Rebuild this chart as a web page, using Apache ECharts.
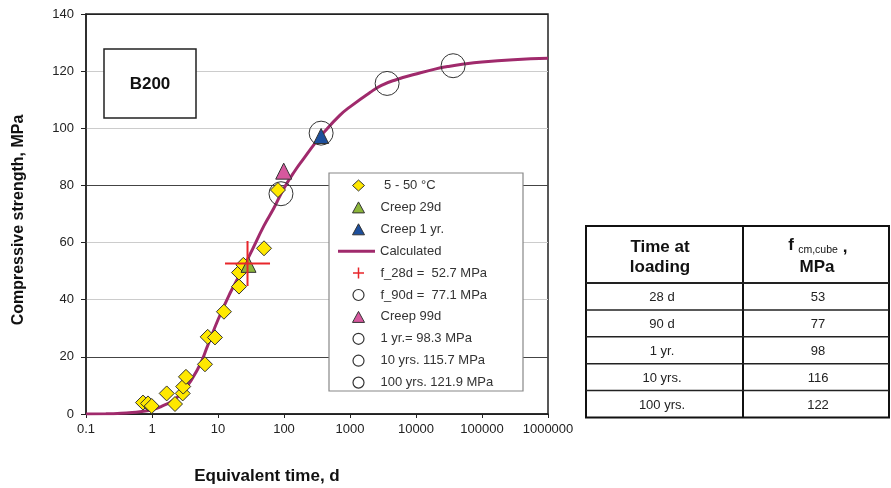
<!DOCTYPE html>
<html lang="en" style="height: 100%">
<head>
  <meta charset="utf-8">
</head>
<body style="height: 100%; margin: 0; background: #fff">
  <div id="container" style="width: 891px; height: 488px"></div>
  <script type="text/javascript" src="https://cdn.jsdelivr.net/npm/echarts@6/dist/echarts.min.js"></script>
  <script type="text/javascript">
    // measured points, [equivalent time d, MPa]
    var tests5to50 = [[0.73, 4], [0.87, 3.7], [0.99, 2.8], [1.67, 7.2], [2.23, 3.5], [2.92, 7.2],
      [2.97, 9.6], [3.27, 13], [6.35, 17.4], [6.98, 27], [9.0, 26.8], [12.3, 35.8],
      [20.8, 44.6], [20.8, 49.5], [24.2, 52.2], [49.8, 58], [81, 78.4]];
    var creep29d = [[29, 52.2]];
    var creep1yr = [[365, 97.3]];
    var creep99d = [[99, 85]];
    var calcTime = [0.1, 0.2, 0.3, 0.5, 0.7, 1, 1.5, 2, 3, 5, 7, 10, 15, 20, 30, 50, 70, 100, 150, 200,
      300, 400, 700, 1000, 2000, 3000, 5000, 10000, 20000, 30000, 50000, 100000, 300000, 1000000];
    var calcStrength = [0, 0.1, 0.2, 0.5, 0.9, 1.5, 3, 4.5, 8, 16, 24, 33, 42, 47.5, 55.5, 66, 72, 79, 85.5, 89.5,
      95, 98.5, 104.5, 107.5, 112.5, 115, 117, 119, 120.8, 121.6, 122.4, 123.2, 124, 124.5];
    var f28d = [[28, 52.7]];
    var f90d = [[90, 77.1]];
    var f1yr = [[365, 98.3]];
    var f10yr = [[3650, 115.7]];
    var f100yr = [[36500, 121.9]];

    // table on the right
    var tableTimes = ['28 d', '90 d', '1 yr.', '10 yrs.', '100 yrs.'];
    var tableStrengths = [53, 77, 98, 116, 122];

    var names = [' 5 - 50 °C', 'Creep 29d', 'Creep 1 yr.', 'Calculated', 'f_28d =  52.7 MPa',
      'f_90d =  77.1 MPa', 'Creep 99d', '1 yr.= 98.3 MPa', '10 yrs. 115.7 MPa', '100 yrs. 121.9 MPa'];

    var crossPath = 'path://M22,0 L22,44 M0,22 L44,22';
    var ring = { color: 'rgba(0,0,0,0)', borderColor: '#333', borderWidth: 1, opacity: 1 };
    var font17 = 'bold 17px "Liberation Sans", Arial';

    var myChart = echarts.init(document.getElementById('container'), null, { renderer: 'canvas' });

    function ringSeries(name, data) {
      return { name: name, type: 'scatter', data: data, symbol: 'circle', symbolSize: 24, itemStyle: ring, z: 6 };
    }
    function legendRing(name) {
      return { name: name, icon: 'circle', itemStyle: { color: 'rgba(0,0,0,0)', borderColor: '#333', borderWidth: 1.2 } };
    }
    function legendBox(top, items, wide) {
      return {
        orient: 'vertical', left: wide ? 338 : 352, top: top,
        itemWidth: wide ? 37 : 12, itemHeight: wide ? 3 : 11, itemGap: 8.9, padding: 0, z: 10,
        textStyle: { color: '#333', fontSize: 13, padding: [0, 0, 0, wide ? 0 : 11] },
        data: items
      };
    }

    // table drawn as graphic elements
    var tableX = 586, tableY = 226, tableW = 303, colX = 743, headH = 57, rowH = 26.9;
    var tableGraphic = [
      { type: 'rect', shape: { x: tableX, y: tableY, width: tableW, height: headH + rowH * 5 },
        style: { fill: '#fff', stroke: '#111', lineWidth: 2 } },
      { type: 'line', shape: { x1: colX, y1: tableY, x2: colX, y2: tableY + headH + rowH * 5 },
        style: { stroke: '#111', lineWidth: 2 } },
      { type: 'text', x: 660, y: 247, style: { text: 'Time at', font: font17, fill: '#111', align: 'center', verticalAlign: 'middle' } },
      { type: 'text', x: 660, y: 267, style: { text: 'loading', font: font17, fill: '#111', align: 'center', verticalAlign: 'middle' } },
      { type: 'text', x: 791, y: 245, style: { text: 'f', font: font17, fill: '#111', align: 'center', verticalAlign: 'middle' } },
      { type: 'text', x: 818, y: 250, style: { text: 'cm,cube', font: '10.5px "Liberation Sans", Arial', fill: '#111', align: 'center', verticalAlign: 'middle' } },
      { type: 'text', x: 845, y: 247, style: { text: ',', font: font17, fill: '#111', align: 'center', verticalAlign: 'middle' } },
      { type: 'text', x: 817, y: 267, style: { text: 'MPa', font: font17, fill: '#111', align: 'center', verticalAlign: 'middle' } }
    ];
    tableTimes.forEach(function (t, i) {
      var top = tableY + headH + rowH * i;
      tableGraphic.push({ type: 'line', shape: { x1: tableX, y1: top, x2: tableX + tableW, y2: top },
        style: { stroke: '#222', lineWidth: i === 0 ? 2 : 1.5 } });
      tableGraphic.push({ type: 'text', x: 662, y: top + rowH / 2 + 1, style: { text: t, font: '13px "Liberation Sans", Arial', fill: '#222', align: 'center', verticalAlign: 'middle' } });
      tableGraphic.push({ type: 'text', x: 818, y: top + rowH / 2 + 1, style: { text: String(tableStrengths[i]), font: '13px "Liberation Sans", Arial', fill: '#222', align: 'center', verticalAlign: 'middle' } });
    });

    var pitch = 21.9, legendTop = 179;
    var option = {
      animation: false,
      textStyle: { fontFamily: '"Liberation Sans", Arial, sans-serif' },
      grid: { left: 86, top: 14, right: 343, bottom: 74, show: true, borderColor: '#222', borderWidth: 1.5 },
      xAxis: {
        type: 'log', logBase: 10, min: 0.1, max: 1000000,
        axisLine: { lineStyle: { color: '#222', width: 1.5 } },
        axisTick: { show: true, length: 4, lineStyle: { color: '#222' } },
        minorTick: { show: false },
        splitLine: { show: false },
        axisLabel: { color: '#222', fontSize: 13, margin: 9, formatter: function (v) { return String(+v.toPrecision(6)); } }
      },
      yAxis: {
        type: 'value', min: 0, max: 140, interval: 20,
        axisLine: { show: true, lineStyle: { color: '#222', width: 1.5 } },
        axisTick: { show: true, length: 5, lineStyle: { color: '#222' } },
        splitLine: { show: true, lineStyle: { color: ['#222', '#444', '#ccc', '#ccc', '#444', '#ccc', '#ccc', '#222'], width: 1.2 } },
        axisLabel: { color: '#222', fontSize: 13, margin: 12 }
      },
      legend: [
        legendBox(legendTop, [
          { name: names[0], icon: 'diamond', itemStyle: { color: '#ffe800', borderColor: '#333', borderWidth: 1 } },
          { name: names[1], icon: 'triangle', itemStyle: { color: '#8cb63a', borderColor: '#333', borderWidth: 1 } },
          { name: names[2], icon: 'triangle', itemStyle: { color: '#1d4f9c', borderColor: '#333', borderWidth: 1 } }
        ], false),
        legendBox(legendTop + pitch * 3, [
          { name: names[3], icon: 'rect', itemStyle: { color: '#a02a6c', borderWidth: 0 } }
        ], true),
        legendBox(legendTop + pitch * 4, [
          { name: names[4], icon: crossPath, itemStyle: { color: 'rgba(0,0,0,0)', borderColor: '#e8262b', borderWidth: 1.5 } },
          legendRing(names[5]),
          { name: names[6], icon: 'triangle', itemStyle: { color: '#d6589e', borderColor: '#333', borderWidth: 1 } },
          legendRing(names[7]),
          legendRing(names[8]),
          legendRing(names[9])
        ], false)
      ],
      graphic: [
        { type: 'rect', z: 5, shape: { x: 329, y: 173, width: 194, height: 218 },
          style: { fill: '#fff', stroke: '#888', lineWidth: 1.2 } },
        { type: 'rect', z: 5, shape: { x: 104, y: 49, width: 92, height: 69 },
          style: { fill: '#fff', stroke: '#222', lineWidth: 1.5 } },
        { type: 'text', z: 6, x: 150, y: 84, style: { text: 'B200', font: font17, fill: '#111', align: 'center', verticalAlign: 'middle' } },
        { type: 'text', x: 267, y: 476, style: { text: 'Equivalent time, d', font: font17, fill: '#111', align: 'center', verticalAlign: 'middle' } },
        { type: 'text', x: 19, y: 220, rotation: Math.PI / 2, style: { text: 'Compressive strength, MPa', font: 'bold 16px "Liberation Sans", Arial', fill: '#111', align: 'center', verticalAlign: 'middle' } }
      ].concat(tableGraphic),
      series: [
        { name: names[0], type: 'scatter', data: tests5to50, symbol: 'diamond', symbolSize: 15, z: 3,
          itemStyle: { color: '#ffe800', borderColor: '#333', borderWidth: 1, opacity: 1 } },
        { name: names[1], type: 'scatter', data: creep29d, symbol: 'triangle', symbolSize: 15, z: 4,
          itemStyle: { color: '#8cb63a', borderColor: '#333', borderWidth: 1, opacity: 1 } },
        { name: names[2], type: 'scatter', data: creep1yr, symbol: 'triangle', symbolSize: 15, z: 4,
          itemStyle: { color: '#1d4f9c', borderColor: '#333', borderWidth: 1, opacity: 1 } },
        { name: names[3], type: 'line', z: 2, smooth: true, symbol: 'none',
          data: calcTime.map(function (t, i) { return [t, calcStrength[i]]; }),
          lineStyle: { color: '#a02a6c', width: 3 }, itemStyle: { color: '#a02a6c' } },
        { name: names[4], type: 'scatter', data: f28d, symbol: crossPath, symbolSize: 45, z: 7,
          itemStyle: { color: 'rgba(0,0,0,0)', borderColor: '#e8262b', borderWidth: 2, opacity: 1 } },
        ringSeries(names[5], f90d),
        { name: names[6], type: 'scatter', data: creep99d, symbol: 'triangle', symbolSize: 16, z: 4,
          itemStyle: { color: '#d6589e', borderColor: '#333', borderWidth: 1, opacity: 1 } },
        ringSeries(names[7], f1yr),
        ringSeries(names[8], f10yr),
        ringSeries(names[9], f100yr)
      ]
    };

    myChart.setOption(option);
    window.addEventListener('resize', myChart.resize);
  </script>
</body>
</html>
